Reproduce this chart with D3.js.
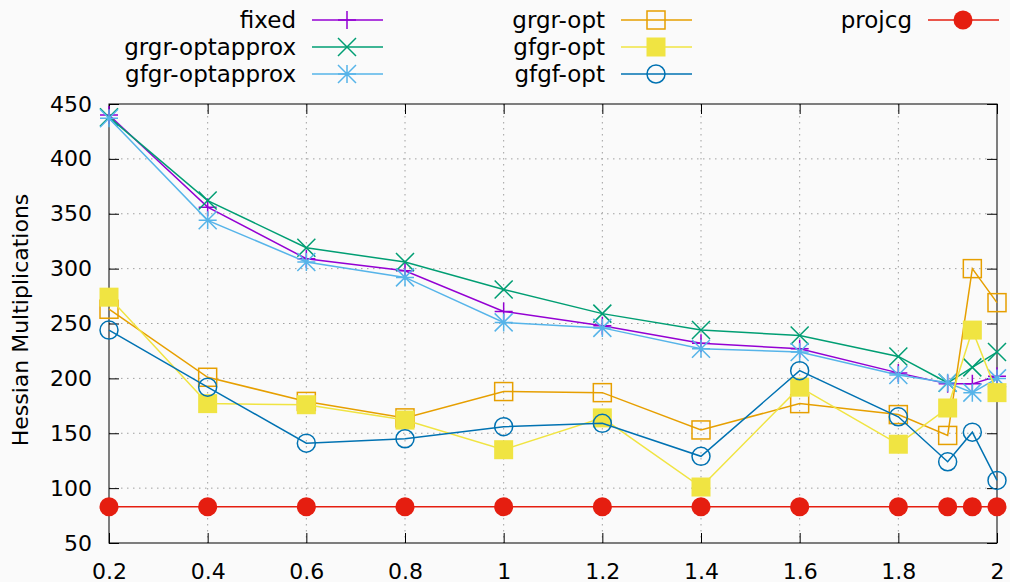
<!DOCTYPE html>
<html>
<head>
<meta charset="utf-8">
<script src="https://cdn.jsdelivr.net/npm/d3@7"></script>
<style>
  body { margin: 0; background: #fafafa; }
  svg { display: block; font-family: "DejaVu Sans", sans-serif; }
</style>
</head>
<body>
<svg id="chart" width="1010" height="582"></svg>
<script>
// data
const xs = [0.2, 0.4, 0.6, 0.8, 1.0, 1.2, 1.4, 1.6, 1.8, 1.9, 1.95, 2.0];
const fixed          = [440, 356, 309, 298, 261, 248, 232, 227, 205, 195, 195, 202];
const grgrOptapprox  = [438, 362, 319, 306, 281, 259, 244, 239, 220, 196, 210, 224];
const gfgrOptapprox  = [437, 344, 306, 292, 251, 246, 227, 224, 203, 196, 187, 200];
const grgrOpt        = [263, 201, 179, 164, 188, 187, 153, 177, 167, 148, 300, 269];
const gfgrOpt        = [274, 177, 176, 162, 135, 164, 101, 192, 140, 173, 244, 187];
const gfgfOpt        = [244, 192, 141, 145, 156, 159, 129, 207, 165, 124, 151, 107];
const projcg         = [83, 83, 83, 83, 83, 83, 83, 83, 83, 83, 83, 83];

const xTicks = [0.2, 0.4, 0.6, 0.8, 1, 1.2, 1.4, 1.6, 1.8, 2];
const yTicks = [50, 100, 150, 200, 250, 300, 350, 400, 450];

const series = [
  { name: "fixed",          values: fixed,         color: "#9400d3", pt: "plus" },
  { name: "grgr-optapprox", values: grgrOptapprox, color: "#009e73", pt: "cross" },
  { name: "gfgr-optapprox", values: gfgrOptapprox, color: "#56b4e9", pt: "star" },
  { name: "grgr-opt",       values: grgrOpt,       color: "#e69f00", pt: "square" },
  { name: "gfgr-opt",       values: gfgrOpt,       color: "#f0e442", pt: "fsquare" },
  { name: "gfgf-opt",       values: gfgfOpt,       color: "#0072b2", pt: "circle" },
  { name: "projcg",         values: projcg,        color: "#e51e10", pt: "fcircle" }
];

const pLeft = 109, pRight = 997, pTop = 104, pBottom = 543;
const fontSize = 22;

const svg = d3.select("#chart");
const x = d3.scaleLinear().domain([0.2, 2]).range([pLeft, pRight]);
const y = d3.scaleLinear().domain([50, 450]).range([pBottom, pTop]);

// grid
const grid = svg.append("g").attr("stroke", "#a0a0a0").attr("stroke-width", 1)
  .attr("stroke-dasharray", "1.5,4.5");
grid.selectAll(".gx").data(xTicks.slice(1, -1)).enter().append("line")
  .attr("x1", d => x(d)).attr("x2", d => x(d)).attr("y1", pTop).attr("y2", pBottom);
grid.selectAll(".gy").data(yTicks.slice(1, -1)).enter().append("line")
  .attr("x1", pLeft).attr("x2", pRight).attr("y1", d => y(d)).attr("y2", d => y(d));

// axes, ticks on both sides
const tickLen = 10;
const axL = svg.append("g").attr("transform", `translate(${pLeft},0)`)
  .call(d3.axisLeft(y).tickValues(yTicks).tickSizeInner(-tickLen).tickSizeOuter(0).tickPadding(17));
const axR = svg.append("g").attr("transform", `translate(${pRight},0)`)
  .call(d3.axisRight(y).tickValues(yTicks).tickSizeInner(-tickLen).tickSizeOuter(0).tickFormat(""));
const axB = svg.append("g").attr("transform", `translate(0,${pBottom})`)
  .call(d3.axisBottom(x).tickValues(xTicks).tickSizeInner(-tickLen).tickSizeOuter(0).tickPadding(20).tickFormat(d3.format("~g")));
const axT = svg.append("g").attr("transform", `translate(0,${pTop})`)
  .call(d3.axisTop(x).tickValues(xTicks).tickSizeInner(-tickLen).tickSizeOuter(0).tickFormat(""));
[axL, axR, axB, axT].forEach(a => {
  a.select(".domain").remove();
  a.selectAll("line").attr("stroke", "#000");
  a.selectAll("text").attr("font-size", fontSize).attr("font-family", "DejaVu Sans").attr("fill", "#000");
});

svg.append("rect").attr("x", pLeft).attr("y", pTop)
  .attr("width", pRight - pLeft).attr("height", pBottom - pTop)
  .attr("fill", "none").attr("stroke", "#000").attr("stroke-width", 1);

svg.append("text")
  .attr("transform", "translate(28,320) rotate(-90)")
  .attr("text-anchor", "middle")
  .attr("font-size", fontSize)
  .text("Hessian Multiplications");

// point symbols
function drawPoint(g, type, color) {
  const r = 9;
  if (type === "plus") {
    g.append("path").attr("d", `M${-r},0H${r}M0,${-r}V${r}`).attr("stroke", color).attr("stroke-width", 1.5);
  } else if (type === "cross") {
    g.append("path").attr("d", `M${-r},${-r}L${r},${r}M${-r},${r}L${r},${-r}`).attr("stroke", color).attr("stroke-width", 1.5);
  } else if (type === "star") {
    g.append("path").attr("d", `M${-r},0H${r}M0,${-r}V${r}M${-r},${-r}L${r},${r}M${-r},${r}L${r},${-r}`)
      .attr("stroke", color).attr("stroke-width", 1.5);
  } else if (type === "square") {
    g.append("rect").attr("x", -r).attr("y", -r).attr("width", 2 * r).attr("height", 2 * r)
      .attr("fill", "none").attr("stroke", color).attr("stroke-width", 1.5);
  } else if (type === "fsquare") {
    g.append("rect").attr("x", -9.5).attr("y", -9.5).attr("width", 19).attr("height", 19).attr("fill", color);
  } else if (type === "circle") {
    g.append("circle").attr("r", r).attr("fill", "none").attr("stroke", color).attr("stroke-width", 1.5);
  } else {
    g.append("circle").attr("r", 9.5).attr("fill", color);
  }
}

const line = d3.line().x((d, i) => x(xs[i])).y(d => y(d));

series.forEach(s => {
  const g = svg.append("g");
  g.append("path").datum(s.values).attr("d", line)
    .attr("fill", "none").attr("stroke", s.color).attr("stroke-width", 1.5);
  s.values.forEach((v, i) => {
    drawPoint(g.append("g").attr("transform", `translate(${x(xs[i])},${y(v)})`), s.pt, s.color);
  });
});

// legend, three columns filled top to bottom
const colText = [296, 605, 912];
const rowY = [20, 47, 74];
series.forEach((s, i) => {
  const col = Math.floor(i / 3), row = i % 3;
  const tx = colText[col], ty = rowY[row];
  const g = svg.append("g");
  g.append("text").attr("x", tx).attr("y", ty).attr("dy", "0.35em")
    .attr("text-anchor", "end").attr("font-size", 23).text(s.name);
  g.append("line").attr("x1", tx + 16).attr("x2", tx + 87).attr("y1", ty).attr("y2", ty)
    .attr("stroke", s.color).attr("stroke-width", 1.5);
  drawPoint(g.append("g").attr("transform", `translate(${tx + 51},${ty})`), s.pt, s.color);
});
</script>
</body>
</html>
